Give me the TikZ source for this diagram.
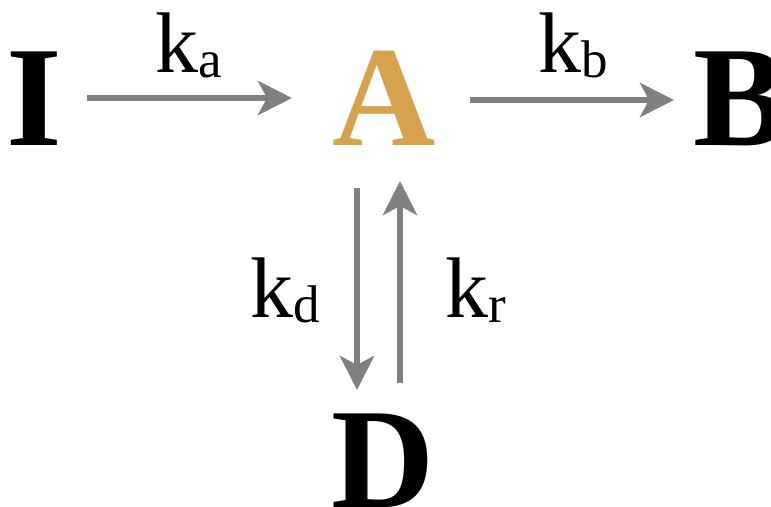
\documentclass[tikz,border=0pt]{standalone}
\usepackage{fontspec}
\setmainfont{Liberation Serif}
\usetikzlibrary{arrows.meta}
\definecolor{gold}{HTML}{D6A24E}
\definecolor{arrgray}{HTML}{808080}
\tikzset{
  big/.style={inner sep=0pt, outer sep=0pt, font=\fontsize{143}{143}\selectfont\bfseries},
  rate/.style={inner sep=0pt, outer sep=0pt, anchor=base west, font=\fontsize{86}{86}\selectfont},
  arr/.style={draw=arrgray, line width=6pt, -{Stealth[length=34pt,width=34pt,inset=9pt]}}
}
\newcommand{\rk}[1]{k\raisebox{-5pt}{\fontsize{53}{53}\selectfont #1}}
\begin{document}
\begin{tikzpicture}[x=1pt,y=-1pt]
\useasboundingbox (0,0) rectangle (771,506);
\node[big, anchor=base] (I) at (34,145) {I};
\node[big, anchor=base, text=gold] (A) at (384,145) {A};
\node[big, anchor=base west] (B) at (693,145) {B};
\node[big, anchor=base] (D) at (383,507) {D};
\node[rate] (ka) at (155,72) {\rk{a}};
\node[rate] (kb) at (538,72) {\rk{b}};
\node[rate] (kd) at (250,317) {\rk{d}};
\node[rate] (kr) at (445,317) {\rk{r}};
\coordinate (ia0) at (87,98);
\coordinate (ia1) at (292,98);
\coordinate (ab0) at (470,100);
\coordinate (ab1) at (674,100);
\coordinate (ad0) at (357,188);
\coordinate (ad1) at (357,390);
\coordinate (da0) at (400,383);
\coordinate (da1) at (400,181);
\draw[arr] (ia0) -- (ia1);
\draw[arr] (ab0) -- (ab1);
\draw[arr] (ad0) -- (ad1);
\draw[arr] (da0) -- (da1);
\end{tikzpicture}
\end{document}
